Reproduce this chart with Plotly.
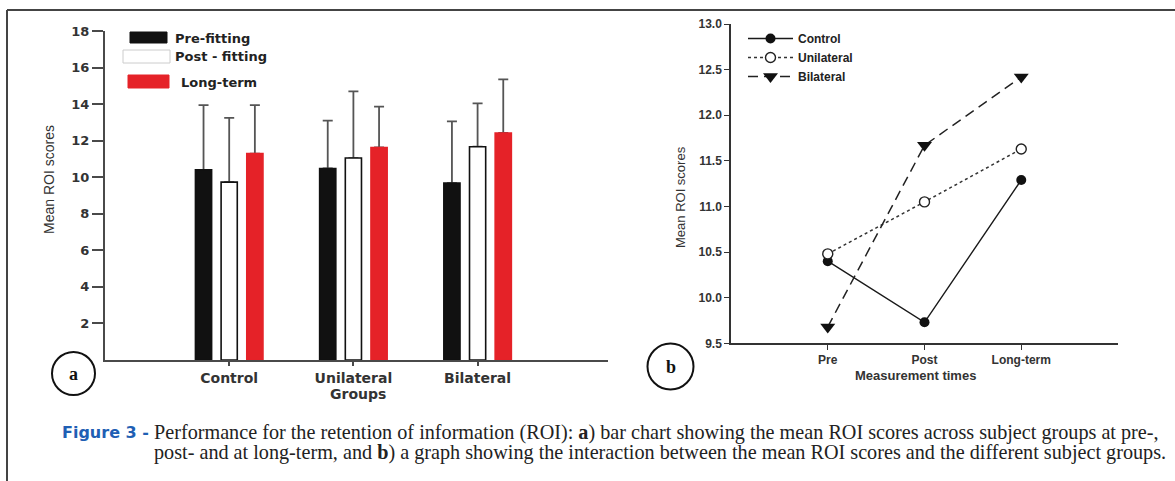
import plotly.graph_objects as go

# ---------------- data ----------------
groups = ["Control", "Unilateral", "Bilateral"]
series_a = ["Pre-fitting", "Post - fitting", "Long-term"]
pre_means = [10.4, 10.48, 9.68]
post_means = [9.73, 11.05, 11.67]
long_means = [11.29, 11.63, 12.42]
pre_err = [3.55, 2.62, 3.38]
post_err = [3.52, 3.65, 2.37]
long_err = [2.66, 2.23, 2.93]
a_yticks = [2, 4, 6, 8, 10, 12, 14, 16, 18]

times = ["Pre", "Post", "Long-term"]
control_b = [10.4, 9.73, 11.29]
unilateral_b = [10.48, 11.05, 11.63]
bilateral_b = [9.68, 11.67, 12.42]
b_yticks = [9.5, 10.0, 10.5, 11.0, 11.5, 12.0, 12.5, 13.0]
b_yticklabels = ["9.5", "10.0", "10.5", "11.0", "11.5", "12.0", "12.5", "13.0"]

W, H = 1175, 481
OFF_Y, EFF_H = 7.0, 467.0   # measured vertical placement of the paper in the photograph
def X(px): return px / W
def Y(py): return 1 - (py - OFF_Y) / EFF_H

BAR_FONT = "DejaVu Sans"
AX = "#4a4a4a"

fig = go.Figure()

means_a = [pre_means, post_means, long_means]
errs_a = [pre_err, post_err, long_err]
fills = ["#111111", "#ffffff", "#e52228"]
lines = ["#111111", "#111111", "#e52228"]

# error bars (drawn on transparent bars behind the visible ones)
for i in range(3):
    fig.add_trace(go.Bar(
        x=groups, y=means_a[i], offsetgroup=str(i),
        marker=dict(color="rgba(0,0,0,0)", line=dict(width=0)),
        error_y=dict(type="data", symmetric=False, array=errs_a[i],
                     arrayminus=[0, 0, 0], color="#555555", thickness=1.8, width=5),
        showlegend=False, hoverinfo="skip", xaxis="x", yaxis="y"))
for i in range(3):
    fig.add_trace(go.Bar(
        x=groups, y=means_a[i], offsetgroup=str(i), name=series_a[i],
        marker=dict(color=fills[i], line=dict(color=lines[i], width=1.6)),
        showlegend=False, xaxis="x", yaxis="y"))

# panel b lines
fig.add_trace(go.Scatter(
    x=times, y=control_b, name="Control", mode="lines+markers",
    line=dict(color="#1a1a1a", width=1.4),
    marker=dict(symbol="circle", size=10, color="#111111"),
    xaxis="x2", yaxis="y2", legend="legend2"))
fig.add_trace(go.Scatter(
    x=times, y=unilateral_b, name="Unilateral", mode="lines+markers",
    line=dict(color="#333333", width=1.5, dash="dot"),
    marker=dict(symbol="circle", size=10, color="#ffffff", line=dict(color="#222222", width=1.4)),
    xaxis="x2", yaxis="y2", legend="legend2"))
fig.add_trace(go.Scatter(
    x=times, y=bilateral_b, name="Bilateral", mode="lines+markers",
    line=dict(color="#222222", width=1.5, dash="10px,6px"),
    marker=dict(symbol="triangle-down", size=13, color="#111111"),
    xaxis="x2", yaxis="y2", legend="legend2"))

shapes = []
annotations = []

# outer frame
shapes.append(dict(type="line", xref="paper", yref="paper", x0=X(7), x1=X(1175), y0=Y(10), y1=Y(10),
                   line=dict(color="#444444", width=2)))
shapes.append(dict(type="line", xref="paper", yref="paper", x0=X(7), x1=X(7), y0=Y(10), y1=Y(481),
                   line=dict(color="#444444", width=2)))

# manual legend for panel a
leg = [(130, 167, 32, 43, "#111111", "#111111", 173, 38, "Pre-fitting"),
       (123, 170, 50, 63, "#ffffff", "#cccccc", 173, 56, "Post - fitting"),
       (128, 169, 75, 88, "#e52228", "#e52228", 179, 82, "Long-term")]
for x0, x1, y0, y1, fc, lc, tx, ty, txt in leg:
    shapes.append(dict(type="rect", xref="paper", yref="paper", x0=X(x0), x1=X(x1), y0=Y(y1), y1=Y(y0),
                       fillcolor=fc, line=dict(color=lc, width=1)))
    annotations.append(dict(xref="paper", yref="paper", x=X(tx), y=Y(ty), text=txt, showarrow=False,
                            xanchor="left", yanchor="middle",
                            font=dict(family=BAR_FONT, size=13, color="#222222", weight="bold")))

# axis titles
annotations.append(dict(xref="paper", yref="paper", x=X(49), y=Y(180), text="Mean ROI scores",
                        textangle=-90, showarrow=False, xanchor="center", yanchor="middle",
                        font=dict(family="Liberation Sans", size=14, color="#333333")))
annotations.append(dict(xref="paper", yref="paper", x=X(358), y=Y(394), text="Groups", showarrow=False,
                        xanchor="center", yanchor="middle",
                        font=dict(family=BAR_FONT, size=14, color="#333333", weight="bold")))
annotations.append(dict(xref="paper", yref="paper", x=X(681), y=Y(197), text="Mean ROI scores",
                        textangle=-90, showarrow=False, xanchor="center", yanchor="middle",
                        font=dict(family="Liberation Sans", size=13, color="#333333")))
annotations.append(dict(xref="paper", yref="paper", x=X(916), y=Y(375), text="Measurement times",
                        showarrow=False, xanchor="center", yanchor="middle",
                        font=dict(family="Liberation Sans", size=13, color="#333333", weight="bold")))

# circled panel letters
for cx, cy, r, letter in [(73.5, 373.5, 21.5, "a"), (670.5, 366.5, 23, "b")]:
    shapes.append(dict(type="circle", xref="paper", yref="paper", x0=X(cx - r), x1=X(cx + r),
                       y0=Y(cy + r), y1=Y(cy - r), line=dict(color="#111111", width=2)))
    annotations.append(dict(xref="paper", yref="paper", x=X(cx), y=Y(cy), text="<b>%s</b>" % letter,
                            showarrow=False, xanchor="center", yanchor="middle",
                            font=dict(family="Liberation Serif", size=18, color="#111111")))

# caption
annotations.append(dict(xref="paper", yref="paper", x=X(60), y=Y(432), text="Figure 3 -",
                        showarrow=False, xanchor="left", yanchor="middle",
                        font=dict(family="DejaVu Sans", size=16, color="#1f5fb4", weight="bold")))
cap1 = ("Performance for the retention of information (ROI): <b>a</b>) bar chart showing the mean ROI "
        "scores across subject groups at pre-,")
cap2 = ("post- and at long-term, and <b>b</b>) a graph showing the interaction between the mean ROI "
        "scores and the different subject groups.")
for txt, yy in [(cap1, 432), (cap2, 452)]:
    annotations.append(dict(xref="paper", yref="paper", x=X(152), y=Y(yy), text=txt,
                            showarrow=False, xanchor="left", yanchor="middle",
                            font=dict(family="Liberation Serif", size=20.2, color="#222222")))

fig.update_layout(
    width=W, height=H, margin=dict(l=0, r=0, t=0, b=0),
    paper_bgcolor="white", plot_bgcolor="white",
    barmode="group", bargap=0.38, bargroupgap=0.37,
    xaxis=dict(domain=[X(105), X(608)], anchor="y", type="category", range=[-1, 3.05],
               showline=True, linecolor=AX, linewidth=2, ticks="outside", ticklen=4,
               tickcolor=AX, tickwidth=2, showgrid=False, zeroline=False,
               tickfont=dict(family=BAR_FONT, size=14, color="#333333", weight="bold")),
    yaxis=dict(domain=[Y(360), Y(31)], anchor="x", range=[0, 18], tickvals=a_yticks,
               showline=True, linecolor=AX, linewidth=2, ticks="outside", ticklen=11,
               tickcolor=AX, tickwidth=2, showgrid=False, zeroline=False,
               tickfont=dict(family=BAR_FONT, size=13, color="#333333", weight="bold")),
    xaxis2=dict(domain=[X(731), X(1118)], anchor="y2", type="category", range=[-1, 3],
                showline=True, linecolor="#333333", linewidth=1.5, ticks="outside", ticklen=5,
                tickcolor="#333333", showgrid=False, zeroline=False,
                tickfont=dict(family="Liberation Sans", size=12, color="#333333", weight="bold")),
    yaxis2=dict(domain=[Y(343.3), Y(24)], anchor="x2", range=[9.5, 13], tickvals=b_yticks,
                ticktext=b_yticklabels,
                showline=True, linecolor="#333333", linewidth=1.5, ticks="outside", ticklen=5,
                tickcolor="#333333", showgrid=False, zeroline=False,
                tickfont=dict(family="Liberation Sans", size=12, color="#333333", weight="bold")),
    legend2=dict(x=X(743), y=Y(24), xanchor="left", yanchor="top", bgcolor="rgba(0,0,0,0)",
                 itemwidth=45, tracegroupgap=0,
                 font=dict(family="Liberation Sans", size=12, color="#222222", weight="bold")),
    shapes=shapes, annotations=annotations,
)

fig.write_html("out.html", config={"displayModeBar": False},
               post_script="document.body.style.margin='0px';document.body.style.overflow='hidden';")
